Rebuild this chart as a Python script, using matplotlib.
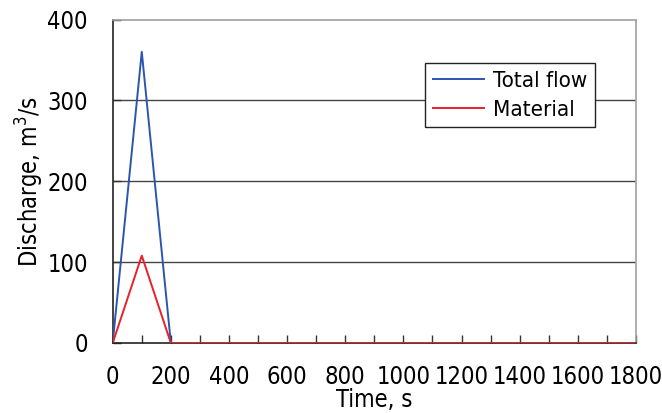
import matplotlib
matplotlib.use("Agg")
import matplotlib.pyplot as plt

# data
time = [0, 100, 200, 1800]
total_flow = [0, 360, 0, 0]
material = [0, 108, 0, 0]

xticks = list(range(0, 1801, 200))
yticks = [0, 100, 200, 300, 400]

plt.rcParams["font.family"] = ["DejaVu Sans"]
plt.rcParams["font.stretch"] = "condensed"

fig = plt.figure(figsize=(6.62, 4.13), dpi=100)
ax = fig.add_axes([112.7 / 662, 1 - 343 / 413, (636 - 112.7) / 662, (343 - 19.5) / 413])

ax.plot(time, total_flow, color="#2a55b0", lw=1.4, label="Total flow", zorder=3)
ax.plot(time, material, color="#e8202a", lw=1.4, label="Material", zorder=4)

ax.set_xlim(0, 1800)
ax.set_ylim(0, 400)
ax.set_xticks(xticks)
ax.set_xticks(range(100, 1800, 200), minor=True)
ax.set_yticks(yticks)
for y in yticks[1:-1]:
    ax.axhline(y, color="#444444", lw=1.0, zorder=1)

ax.tick_params(axis="both", which="both", direction="in", length=6, width=1,
               color="#333333", labelsize=17)
ax.tick_params(axis="x", pad=16)
ax.tick_params(axis="y", pad=18)

ax.spines["left"].set_color("#222222")
ax.spines["bottom"].set_color("#222222")
ax.spines["top"].set_color("#a0a0a0")
ax.spines["right"].set_color("#a0a0a0")
for s in ax.spines.values():
    s.set_linewidth(1.2)

ax.set_xlabel("Time, s", fontsize=17, labelpad=-1)
ax.set_ylabel("Discharge, m$^3$/s", fontsize=17, labelpad=1)

leg = ax.legend(loc="upper left", bbox_to_anchor=((425 - 112.7) / 523.3, (343 - 63) / 323.5),
                fontsize=16, frameon=True, fancybox=False, edgecolor="#222222",
                framealpha=1, borderpad=0.35, handlelength=2.3, labelspacing=0.4,
                handletextpad=0.4, borderaxespad=0)
leg.get_frame().set_linewidth(1.0)

fig.savefig("out.png", dpi=100)
